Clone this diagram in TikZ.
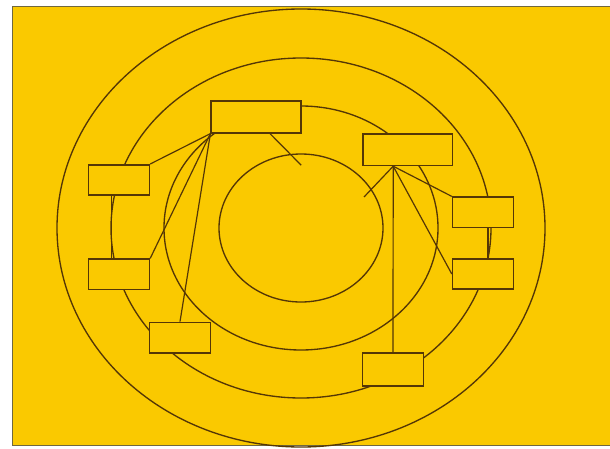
\documentclass[tikz,border=0pt]{standalone}
\usepackage{tikz}
\usetikzlibrary{positioning}

\definecolor{paper}{RGB}{250,201,0}
\definecolor{ink}{RGB}{84,54,6}
\definecolor{frame}{RGB}{112,104,62}

\begin{document}
\begin{tikzpicture}[
    ring/.style={ink, line width=0.95pt},
    wire/.style={ink, line width=0.85pt},
    unit/.style={
        draw=ink,
        fill=paper,
        line width=1.15pt,
        minimum width=1.52cm,
        minimum height=0.76cm,
        inner sep=0pt
    },
    hub/.style={unit, minimum width=2.24cm, minimum height=0.79cm}
]

\useasboundingbox (0,0) rectangle (15.25,-11.2);

% Background
\draw[fill=paper, draw=frame, line width=0.8pt] (0.31,-0.16) rectangle (15.40,-11.14);

% Rings
\draw[ring] (7.525,-5.70) ellipse [x radius=6.10, y radius=5.475];
\draw[ring] (7.525,-5.70) ellipse [x radius=4.75, y radius=4.25];
\draw[ring] (7.525,-5.70) ellipse [x radius=3.425, y radius=3.05];
\draw[ring] (7.525,-5.70) ellipse [x radius=2.05, y radius=1.85];

% Boxes
\node[hub] (hubl) at (6.40,-2.925) {};
\node[hub] (hubr) at (10.19,-3.74) {};
\node[unit] (left1) at (2.975,-4.50) {};
\node[unit] (left2) at (2.975,-6.86) {};
\node[unit] (lowl) at (4.50,-8.44) {};
\node[unit] (right1) at (12.075,-5.31) {};
\node[unit] (right2) at (12.075,-6.85) {};
\node[unit, minimum height=0.83cm] (lowr) at (9.825,-9.24) {};

% Free ends
\coordinate (stubl) at (7.53,-4.13);
\coordinate (stubr) at (9.10,-4.925);
\coordinate (rfoot) at ([xshift=-0.36cm]hubr.south);

% Left links
\draw[wire] (hubl.south west) -- (left1.north east);
\draw[wire] (hubl.south west) -- (left2.north east);
\draw[wire] (hubl.south west) -- (lowl.north);
\draw[wire] ([xshift=0.35cm]hubl.south) -- (stubl);
\draw[wire] ([xshift=-0.18cm]left1.south) -- ([xshift=-0.18cm]left2.north);

% Right links
\draw[wire] (rfoot) -- (lowr.north);
\draw[wire] (rfoot) -- (right1.north west);
\draw[wire] (rfoot) -- (right2.west);
\draw[wire] (rfoot) -- (stubr);
\draw[wire] ([xshift=0.125cm]right1.south) -- ([xshift=0.125cm]right2.north);

\end{tikzpicture}
\end{document}
